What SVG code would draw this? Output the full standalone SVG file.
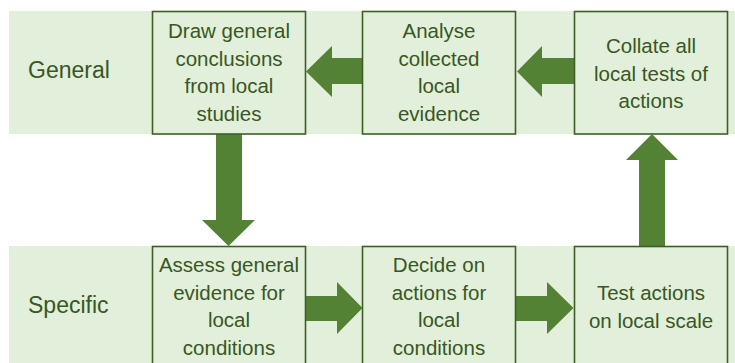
<svg xmlns="http://www.w3.org/2000/svg" width="735" height="363" viewBox="0 0 735 363">
  <style>
    .band { fill: #e2efda; }
    .box { fill: #e2efda; stroke: #3d5f27; stroke-width: 1.6; }
    .arrow { fill: #548235; }
    text { font-family: "Liberation Sans", Arial, sans-serif; fill: #385723; text-anchor: middle; }
    .node { font-size: 20.5px; }
    .label { font-size: 23px; text-anchor: start; }
  </style>

  <!-- level bands -->
  <rect class="band" x="9" y="11" width="726" height="123"/>
  <rect class="band" x="9" y="246" width="726" height="120"/>
  <text class="label" x="28" y="78">General</text>
  <text class="label" x="28" y="313">Specific</text>

  <!-- connectors -->
  <g id="connectors">
    <!-- Analyse -> Draw conclusions -->
    <polygon class="arrow" points="362,58 332,58 332,46 306,71.5 332,97 332,84 362,84"/>
    <!-- Collate -> Analyse -->
    <polygon class="arrow" points="574,58 542,58 542,46 517,71.5 542,97 542,84 574,84"/>
    <!-- Draw conclusions -> Assess -->
    <polygon class="arrow" points="216,134 242,134 242,220 255,220 228.5,246 202,220 216,220"/>
    <!-- Assess -> Decide -->
    <polygon class="arrow" points="306,296 337,296 337,282 362.5,308 337,334 337,321 306,321"/>
    <!-- Decide -> Test -->
    <polygon class="arrow" points="516,296 547,296 547,282 573.5,308 547,334 547,321 516,321"/>
    <!-- Test -> Collate -->
    <polygon class="arrow" points="639,246 639,160 626,160 652,134 678,160 665,160 665,246"/>
  </g>

  <g id="draw-conclusions">
    <rect class="box" x="152.5" y="11.5" width="153" height="122.5"/>
    <text class="node" x="229" y="38">Draw general</text>
    <text class="node" x="229" y="65.5">conclusions</text>
    <text class="node" x="229" y="93">from local</text>
    <text class="node" x="229" y="120.5">studies</text>
  </g>

  <g id="analyse-evidence">
    <rect class="box" x="362.5" y="11.5" width="153" height="122.5"/>
    <text class="node" x="439" y="38">Analyse</text>
    <text class="node" x="439" y="65.5">collected</text>
    <text class="node" x="439" y="93">local</text>
    <text class="node" x="439" y="120.5">evidence</text>
  </g>

  <g id="collate-tests">
    <rect class="box" x="574.5" y="11.5" width="153" height="122.5"/>
    <text class="node" x="651" y="52.5">Collate all</text>
    <text class="node" x="651" y="80.5">local tests of</text>
    <text class="node" x="651" y="108">actions</text>
  </g>

  <g id="assess-evidence">
    <rect class="box" x="152.5" y="246.5" width="153" height="122"/>
    <text class="node" x="229" y="272">Assess general</text>
    <text class="node" x="229" y="299.5">evidence for</text>
    <text class="node" x="229" y="327">local</text>
    <text class="node" x="229" y="354.5">conditions</text>
  </g>

  <g id="decide-actions">
    <rect class="box" x="362.5" y="246.5" width="153" height="122"/>
    <text class="node" x="439" y="272">Decide on</text>
    <text class="node" x="439" y="299.5">actions for</text>
    <text class="node" x="439" y="327">local</text>
    <text class="node" x="439" y="354.5">conditions</text>
  </g>

  <g id="test-actions">
    <rect class="box" x="574.5" y="246.5" width="153" height="122"/>
    <text class="node" x="651" y="300">Test actions</text>
    <text class="node" x="651" y="327.5">on local scale</text>
  </g>
</svg>
